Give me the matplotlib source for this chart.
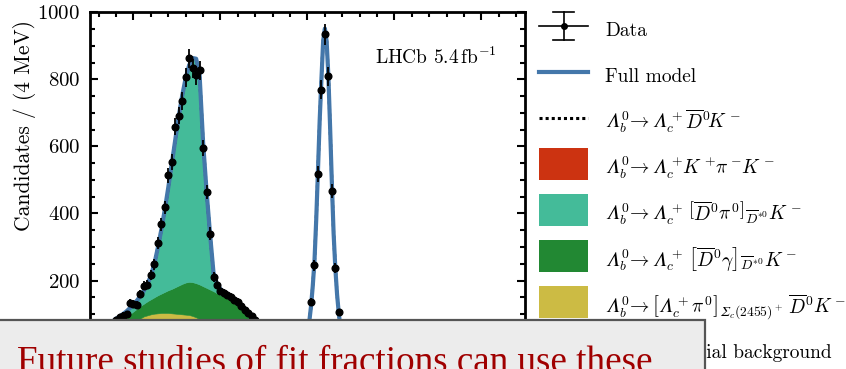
import numpy as np
import matplotlib
matplotlib.use("Agg")
import matplotlib.pyplot as plt
from matplotlib.patches import Rectangle
from matplotlib.lines import Line2D
from matplotlib.ticker import MultipleLocator

plt.rcParams.update({
    "font.family": "serif",
    "font.serif": ["cmr10"],
    "mathtext.fontset": "cm",
    "axes.unicode_minus": False,
    "axes.formatter.use_mathtext": True,
})

# ---------------------------------------------------------------- data
bin_width = 4
mass_lo, mass_hi = 5350, 5850
y_ticks = [200, 400, 600, 800, 1000]

# candidates per 4 MeV bin, first bin centred at 5352 MeV
counts = [42, 48, 51, 58, 62, 66, 74, 83, 91, 95,
          100, 134, 129, 127, 159, 185, 188, 217, 248, 313,
          368, 418, 514, 553, 659, 692, 736, 806, 863, 833,
          812, 827, 596, 464, 340, 211, 188, 170, 163, 157,
          150, 143, 135, 125, 113, 103, 93, 82, 74, 65,
          60, 52, 47, 44, 40, 37, 38, 34, 36, 33,
          35, 41, 62, 137, 245, 518, 770, 935, 810, 467,
          238, 106, 58, 38,
          24, 21, 23, 19, 22, 20, 18, 21, 17, 20,
          19, 16, 18, 21, 17, 15, 19, 16, 18, 14,
          17, 19, 15, 16, 13, 18, 15, 14, 17, 12,
          16, 14, 15, 13, 17, 12, 14, 15, 11, 14,
          13, 12, 15, 11, 13, 12, 14, 10, 13, 11,
          12]

# fit components evaluated on the mass points below
model_mass = [5350, 5360, 5370,
              5376, 5380, 5384, 5388, 5392, 5396, 5400, 5404, 5408, 5412,
              5416, 5420, 5424, 5428, 5432, 5436, 5440, 5444, 5448, 5452,
              5456, 5460, 5464, 5468, 5472, 5476, 5480, 5484, 5488, 5492,
              5496, 5500, 5504, 5508, 5512, 5516, 5520, 5524, 5528, 5532,
              5536, 5540, 5544, 5548,
              5556, 5566, 5578, 5590, 5596,
              5600, 5602, 5604, 5606, 5608, 5610, 5612, 5614, 5616, 5618,
              5620, 5622, 5624, 5626, 5628, 5630, 5632, 5634, 5636, 5638,
              5640,
              5646, 5656, 5670, 5700, 5750, 5800, 5850]

comb_bkg = [26, 26, 25,
            25, 25, 25, 25, 25, 25, 25, 24, 24, 24,
            24, 24, 24, 24, 24, 23, 23, 23, 23, 23,
            23, 23, 23, 22, 22, 22, 22, 22, 22, 22,
            22, 22, 21, 21, 21, 21, 21, 21, 21, 21,
            21, 21, 20, 20,
            20, 20, 19, 19, 19,
            19, 19, 19, 19, 19, 19, 19, 19, 18, 18,
            18, 18, 18, 18, 18, 18, 18, 18, 18, 18,
            18,
            18, 17, 17, 16, 15, 13, 12]

lc_kpik = [0, 0, 0,
           0, 0, 0, 0, 0, 0, 0, 0, 0, 0,
           0, 0, 0, 0, 0, 0, 0, 0, 0, 0,
           0, 0, 0, 0, 0, 0, 0, 0, 0, 0,
           0, 0, 0, 0, 0, 0, 0, 0, 0, 0,
           0, 0, 0, 0,
           0, 0, 0, 0, 1,
           5, 7, 10, 14, 18, 23, 27, 31, 34, 35,
           35, 34, 31, 27, 22, 17, 13, 9, 6, 4,
           3,
           1, 0, 0, 0, 0, 0, 0]

sigmac_pi0 = [2, 4, 8,
              12, 16, 21, 27, 33, 40, 48, 56, 63, 69,
              72, 75, 77, 78, 79, 80, 80, 79, 78, 77,
              76, 75, 74, 72, 68, 62, 55, 47, 39, 31,
              24, 18, 13, 9, 6, 4, 3, 2, 1, 1,
              0, 0, 0, 0,
              0, 0, 0, 0, 0,
              0, 0, 0, 0, 0, 0, 0, 0, 0, 0,
              0, 0, 0, 0, 0, 0, 0, 0, 0, 0,
              0,
              0, 0, 0, 0, 0, 0, 0]

dstar_gamma = [12, 18, 27,
               31, 33, 34, 34, 35, 35, 35, 36, 37, 38,
               42, 45, 49, 54, 58, 63, 68, 73, 79, 85,
               91, 96, 99, 101, 102, 104, 106, 109, 112, 115,
               116, 117, 118, 117, 114, 109, 103, 96, 88, 79,
               72, 63, 56, 48,
               35, 22, 15, 10, 8,
               6, 5, 5, 4, 4, 3, 3, 3, 2, 2,
               2, 2, 2, 1, 1, 1, 1, 1, 1, 1,
               1,
               1, 0, 0, 0, 0, 0, 0]

dstar_pi0 = [6, 8, 8,
             10, 12, 13, 14, 15, 18, 21, 24, 30, 39,
             52, 70, 100, 142, 191, 246, 307, 373, 440, 505,
             562, 611, 647, 669, 670, 624, 429, 288, 165, 54,
             28, 17, 13, 10, 9, 8, 7, 6, 5, 4,
             2, 1, 0, 0,
             0, 0, 0, 0, 0,
             0, 0, 0, 0, 0, 0, 0, 0, 0, 0,
             0, 0, 0, 0, 0, 0, 0, 0, 0, 0,
             0,
             0, 0, 0, 0, 0, 0, 0]

signal = [0, 0, 0,
          0, 0, 0, 0, 0, 0, 0, 0, 0, 0,
          0, 0, 0, 0, 0, 0, 0, 0, 0, 0,
          0, 0, 0, 0, 0, 0, 0, 0, 0, 0,
          0, 0, 0, 0, 0, 0, 0, 0, 0, 0,
          0, 0, 0, 0,
          0, 0, 0, 0, 4,
          20, 45, 88, 145, 216, 335, 477, 625, 746, 860,
          897, 860, 759, 610, 450, 305, 204, 130, 76, 35,
          15,
          1, 0, 0, 0, 0, 0, 0]

labels = [
    "Data",
    "Full model",
    r"$𝛬_b^0\!\to 𝛬_c^+\!\,\overline{D}^0\!K^-$",
    r"$𝛬_b^0\!\to 𝛬_c^+\!K^+\!\pi^-\!K^-$",
    r"$𝛬_b^0\!\to 𝛬_c^+\,\left[\overline{D}^0\pi^0\right]_{\overline{D}^{*0}}K^-$",
    r"$𝛬_b^0\!\to 𝛬_c^+\,\left[\overline{D}^0\gamma\right]_{\overline{D}^{*0}}K^-$",
    r"$𝛬_b^0\!\to \left[𝛬_c^+\pi^0\right]_{𝛴_c(2455)^+}\,\overline{D}^0K^-$",
    "Combinatorial background",
]

BLUE = "#4477AA"
colours = {"comb": "#BBBBBB", "kpik": "#CC3311", "sigmac": "#CCBB44",
           "gamma": "#228833", "pi0": "#44BB99"}

# ---------------------------------------------------------------- figure
W, H = 846, 369
fig = plt.figure(figsize=(W / 100, H / 100), dpi=100)
ax = fig.add_axes([90 / W, 1 - 347.5 / H, 435 / W, 335 / H])

m = np.array(model_mass, dtype=float)
stack = [(comb_bkg, colours["comb"]), (lc_kpik, colours["kpik"]),
         (sigmac_pi0, colours["sigmac"]), (dstar_gamma, colours["gamma"]),
         (dstar_pi0, colours["pi0"])]
base = np.zeros_like(m)
for vals, col in stack:
    top = base + np.asarray(vals, dtype=float)
    ax.fill_between(m, base, top, facecolor=col, edgecolor=col, lw=0.4, zorder=1)
    base = top
full = base + np.asarray(signal, dtype=float)

# signal component drawn on top of the background stack
ax.plot(m, full, color="black", ls=(0, (1, 1)), lw=2.2, zorder=2)
ax.plot(m, full, color=BLUE, lw=3.0, zorder=3, solid_joinstyle="round")

y = np.asarray(counts, dtype=float)
x = mass_lo + bin_width / 2 + bin_width * np.arange(len(y))
ax.errorbar(x, y, yerr=np.sqrt(y), xerr=bin_width / 2, fmt="o", ms=4.8,
            color="black", elinewidth=1.3, capsize=0, zorder=4)

ax.set_xlim(mass_lo, mass_hi)
ax.set_ylim(0, 1000)
ax.xaxis.set_major_locator(MultipleLocator(100))
ax.xaxis.set_minor_locator(MultipleLocator(20))
ax.set_yticks(y_ticks)
ax.yaxis.set_minor_locator(MultipleLocator(50))
ax.tick_params(which="both", direction="in", top=True, right=True,
               width=1.5, labelsize=15, labelbottom=False)
ax.tick_params(which="major", length=6)
ax.tick_params(which="minor", length=3.5)
ax.tick_params(axis="y", pad=7)
for sp in ax.spines.values():
    sp.set_linewidth(2)


def fx(px):
    return px / W


def fy(py):
    return 1 - py / H


fig.text(fx(25), fy(20), "Candidates / (4 MeV)", fontsize=15.5,
         rotation=90, ha="center", va="top")

ax.text(0.655, 0.867, r"LHCb $5.4\,\mathrm{fb}^{-1}$", transform=ax.transAxes,
        fontsize=14, ha="left", va="center")

# ---------------------------------------------------------------- legend
row_y = [26 + 46 * i for i in range(len(labels))]
hx0, hx1 = 539, 588
tf = fig.transFigure

# data entry
yc = row_y[0]
fig.add_artist(Line2D([fx(hx0), fx(hx1)], [fy(yc), fy(yc)], color="black", lw=1.2, transform=tf))
fig.add_artist(Line2D([fx(563.5), fx(563.5)], [fy(12), fy(40)], color="black", lw=1.2, transform=tf))
for ycap in (12, 40):
    fig.add_artist(Line2D([fx(553), fx(574)], [fy(ycap), fy(ycap)], color="black", lw=1.2, transform=tf))
fig.add_artist(Line2D([fx(563.5)], [fy(yc)], marker="o", ms=4, color="black", transform=tf))

# full model and signal entries
fig.add_artist(Line2D([fx(hx0), fx(hx1)], [fy(row_y[1])] * 2, color=BLUE, lw=3.0, transform=tf))
fig.add_artist(Line2D([fx(hx0), fx(hx1)], [fy(row_y[2])] * 2, color="black",
                      ls=(0, (1, 1)), lw=2.2, transform=tf))

# filled entries
patch_cols = [colours["kpik"], colours["pi0"], colours["gamma"], colours["sigmac"], colours["comb"]]
for yc, col in zip(row_y[3:], patch_cols):
    fig.add_artist(Rectangle((fx(hx0), fy(yc + 16)), fx(hx1) - fx(hx0), 32 / H,
                             facecolor=col, edgecolor="none", transform=tf))

for yc, lab in zip(row_y, labels):
    fig.text(fx(605), fy(yc + 10), lab, fontsize=14, ha="left", va="baseline")

# ---------------------------------------------------------------- caption box
fig.add_artist(Rectangle((-0.01, -0.1), fx(705) + 0.01, 0.1 + fy(320),
                         facecolor="#ececec", edgecolor="#555555", lw=1.6,
                         transform=tf, zorder=10))
fig.text(fx(17), fy(372), "Future studies of fit fractions can use these",
         fontsize=26.7, family="Liberation Serif", color="#a00000",
         ha="left", va="baseline", zorder=11)

fig.savefig("out.png", dpi=100)
